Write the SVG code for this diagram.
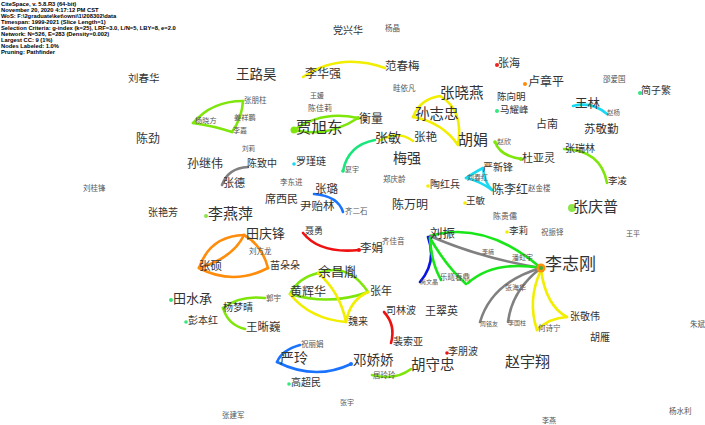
<svg xmlns="http://www.w3.org/2000/svg" width="705" height="425" viewBox="0 0 705 425">
<style>
.hd{font-family:"Liberation Sans",Arial,sans-serif;font-weight:bold;font-size:5.8px;fill:#000}
.t{font-family:"Noto Sans CJK SC","Noto Sans",sans-serif;fill:#333;dominant-baseline:central}
.s{fill:#555}
.e{fill:none;stroke-width:2.6;stroke-linecap:round}
.y{stroke:#f2ee00}.g{stroke:#7ee60a}.gb{stroke:#19e619}.tg{stroke:#19e67a}.o{stroke:#ff8c0a}
.b{stroke:#1a73ff}.db{stroke:#0a14e6}.r{stroke:#ee1111}.c{stroke:#1ad9f2}.gr{stroke:#808080}
</style>
<rect width="705" height="425" fill="#fff"/>
<g id="header">
<text class="hd" x="1" y="6.2">CiteSpace, v. 5.8.R3 (64-bit)</text>
<text class="hd" x="1" y="12.2">November 20, 2020 4:17:12 PM CST</text>
<text class="hd" x="1" y="18.2">WoS: F:\2graduate\ket\owni\1\208302\data</text>
<text class="hd" x="1" y="24.2">Timespan: 1999-2021 (Slice Length=1)</text>
<text class="hd" x="1" y="30.2">Selection Criteria: g-index (k=25), LRF=3.0, L/N=5, LBY=8, e=2.0</text>
<text class="hd" x="1" y="36.2">Network: N=526, E=283 (Density=0.002)</text>
<text class="hd" x="1" y="42.2">Largest CC: 9 (1%)</text>
<text class="hd" x="1" y="48.2">Nodes Labeled: 1.0%</text>
<text class="hd" x="1" y="54.2">Pruning: Pathfinder</text>
</g>
<g id="connectors">
<path class="e y" d="M303,77 Q340,52 385,68"/>
<path class="e g" d="M193,123 Q212,101 243,101"/>
<path class="e g" d="M243,101 Q242,118 232,132"/>
<path class="e g" d="M193,123 Q214,126 232,132"/>
<path class="e g" d="M294,130 Q322,110 358,118"/>
<path class="e g" d="M294,130 Q328,138 358,118"/>
<path class="e y" d="M413,117 Q420,99 440,96"/>
<path class="e y" d="M440,96 Q464,110 458,145"/>
<path class="e y" d="M413,117 Q442,122 458,145"/>
<path class="e y" d="M381,140 Q398,130 413,141"/>
<path class="e tg" d="M343,171 Q348,145 375,140"/>
<path class="e c" d="M573,106 Q592,101 607,114"/>
<path class="e g" d="M495,142 Q500,156 521,159"/>
<path class="e g" d="M564,149 Q601,150 607,183"/>
<path class="e c" d="M466,178 Q477,171 483,168"/>
<path class="e c" d="M483,168 Q484,182 492,190"/>
<path class="e c" d="M466,178 Q480,181 492,190"/>
<path class="e gr" d="M222,185 Q228,168 248,167"/>
<path class="e b" d="M314,194 Q338,196 343,212"/>
<path class="e r" d="M303,233 Q320,254 359,250"/>
<path class="e o" d="M244,235 Q210,236 199,268"/>
<path class="e o" d="M244,235 Q233,258 199,268"/>
<path class="e o" d="M199,268 Q233,286 268,268"/>
<path class="e o" d="M244,235 Q262,245 268,268"/>
<path class="e g" d="M318,273 Q298,278 290,294"/>
<path class="e g" d="M318,273 Q348,262 368,292"/>
<path class="e g" d="M290,294 Q330,306 368,292"/>
<path class="e y" d="M318,273 Q340,292 346,322"/>
<path class="e y" d="M290,294 Q310,319 346,322"/>
<path class="e y" d="M368,292 Q350,300 346,322"/>
<path class="e g" d="M223,308 Q240,295 265,298"/>
<path class="e g" d="M223,308 Q228,325 245,329"/>
<path class="e b" d="M300,345 Q282,350 277,362"/>
<path class="e b" d="M277,362 Q315,381 351,364"/>
<path class="e g" d="M372,375 Q395,381 411,369"/>
<path class="e r" d="M384,312 Q396,325 391,343"/>
<path class="e gb" d="M430,236 Q485,220 541,268"/>
<path class="e gr" d="M430,236 Q480,258 541,268"/>
<path class="e db" d="M428,237 Q437,262 420,282"/>
<path class="e gb" d="M430,238 Q431,262 441,280"/>
<path class="e gb" d="M430,238 Q446,266 466,284"/>
<path class="e gb" d="M541,268 Q494,260 468,283"/>
<path class="e gr" d="M541,268 Q492,282 480,322"/>
<path class="e gr" d="M541,268 Q512,290 508,322"/>
<path class="e y" d="M541,270 Q527,300 537,330"/>
<path class="e y" d="M541,270 Q546,306 567,317"/>
<path class="e y" d="M537,330 Q549,318 567,317"/>
</g>
<g id="n1"><text class="t" x="128" y="77" font-size="10.5">刘春华</text></g>
<g id="n2"><text class="t" x="136" y="137" font-size="12">陈劲</text></g>
<g id="n3"><text class="t s" x="83" y="187" font-size="7.5">刘桂锋</text></g>
<g id="n4"><text class="t" x="148" y="211" font-size="10">张艳芳</text></g>
<g id="n5"><text class="t" x="236" y="73" font-size="13.5">王路昊</text></g>
<g id="n6"><text class="t" x="305" y="72" font-size="12">李华强</text></g>
<g id="n7"><text class="t" x="333" y="29" font-size="10">党兴华</text></g>
<g id="n8"><text class="t s" x="385" y="27" font-size="7.5">杨晶</text></g>
<g id="n9"><text class="t" x="385" y="65" font-size="11.5">范春梅</text></g>
<g id="n10"><text class="t s" x="393" y="87" font-size="7.5">畦依凡</text></g>
<g id="n11"><circle cx="497" cy="65" r="2" fill="#ee2222"/><text class="t" x="498" y="62" font-size="11">张海</text></g>
<g id="n12"><circle cx="525" cy="84" r="2" fill="#ff8c0a"/><text class="t" x="528" y="80" font-size="12">卢章平</text></g>
<g id="n13"><text class="t s" x="603" y="78" font-size="7.5">邵爱国</text></g>
<g id="n14"><circle cx="640" cy="93" r="2" fill="#33e680"/><text class="t" x="641" y="89" font-size="10">简子繁</text></g>
<g id="n15"><text class="t" x="497" y="96" font-size="9.5">陈向明</text></g>
<g id="n16"><circle cx="497" cy="111" r="2" fill="#33e680"/><text class="t" x="500" y="109" font-size="9.5">马耀峰</text></g>
<g id="n17"><text class="t" x="575" y="102" font-size="12.5">王林</text></g>
<g id="n18"><text class="t s" x="607" y="112" font-size="6.5">赵杨</text></g>
<g id="n19"><text class="t" x="536" y="123" font-size="11">占南</text></g>
<g id="n20"><text class="t" x="584" y="128" font-size="11.5">苏敬勤</text></g>
<g id="n21"><text class="t s" x="244" y="99" font-size="7.5">张朋柱</text></g>
<g id="n22"><text class="t s" x="234" y="117" font-size="7.2">姜祥鹏</text></g>
<g id="n23"><text class="t s" x="195" y="120" font-size="7.2">杨晓方</text></g>
<g id="n24"><text class="t s" x="233" y="130" font-size="7">李嘉</text></g>
<g id="n25"><text class="t s" x="310" y="95" font-size="7">王媛</text></g>
<g id="n26"><text class="t s" x="308" y="107" font-size="8">陈佳莉</text></g>
<g id="n27"><circle cx="294" cy="130" r="3.5" fill="#7ee60a"/><text class="t" x="296" y="126" font-size="15.5" fill="#222">贾旭东</text></g>
<g id="n28"><circle cx="358" cy="118" r="2" fill="#7ee60a"/><text class="t" x="359" y="117" font-size="12">衡量</text></g>
<g id="n29"><text class="t" x="415" y="112" font-size="14.5" fill="#222">孙志忠</text></g>
<g id="n30"><text class="t" x="440" y="91" font-size="14.5" fill="#222">张晓燕</text></g>
<g id="n31"><text class="t" x="375" y="136" font-size="13">张敏</text></g>
<g id="n32"><text class="t" x="414" y="136" font-size="11.5">张艳</text></g>
<g id="n33"><text class="t" x="458" y="138" font-size="15" fill="#222">胡娟</text></g>
<g id="n34"><circle cx="495" cy="142" r="1.8" fill="#7ee60a"/><text class="t s" x="497" y="141" font-size="7">赵欣</text></g>
<g id="n35"><circle cx="521" cy="159" r="2" fill="#7ee60a"/><text class="t" x="522" y="157" font-size="11">杜亚灵</text></g>
<g id="n36"><text class="t" x="565" y="147" font-size="10">张瑞林</text></g>
<g id="n37"><text class="t" x="608" y="180" font-size="9.5">李凌</text></g>
<g id="n38"><text class="t" x="483" y="166" font-size="10">严新锋</text></g>
<g id="n39"><text class="t s" x="467" y="177" font-size="7">刘春红</text></g>
<g id="n40"><text class="t" x="492" y="188" font-size="12">陈李红</text></g>
<g id="n41"><text class="t s" x="528" y="187" font-size="7.5">赵金楼</text></g>
<g id="n42"><circle cx="572" cy="208" r="4" fill="#8ee64a"/><text class="t" x="573" y="205" font-size="15" fill="#222">张庆普</text></g>
<g id="n43"><circle cx="428" cy="186" r="1.8" fill="#f2ee00"/><text class="t" x="430" y="183" font-size="10">陶红兵</text></g>
<g id="n44"><circle cx="465" cy="203" r="1.8" fill="#f2ee00"/><text class="t" x="466" y="200" font-size="9.5">王敏</text></g>
<g id="n45"><text class="t s" x="493" y="215" font-size="8">陈贵儒</text></g>
<g id="n46"><circle cx="507" cy="232" r="1.8" fill="#f2ee00"/><text class="t" x="509" y="230" font-size="9.5">李莉</text></g>
<g id="n47"><text class="t s" x="541" y="231" font-size="7.5">祝振铎</text></g>
<g id="n48"><text class="t s" x="626" y="233" font-size="7">王平</text></g>
<g id="n49"><text class="t" x="393" y="157" font-size="14">梅强</text></g>
<g id="n50"><text class="t s" x="383" y="178" font-size="7.5">郑庆龄</text></g>
<g id="n51"><text class="t" x="392" y="203" font-size="12">陈万明</text></g>
<g id="n52"><circle cx="343" cy="171" r="1.8" fill="#19e67a"/><text class="t s" x="345" y="169" font-size="7">夏宇</text></g>
<g id="n53"><text class="t s" x="345" y="210" font-size="7.5">齐二石</text></g>
<g id="n54"><text class="t" x="187" y="162" font-size="12">孙继伟</text></g>
<g id="n55"><text class="t s" x="242" y="148" font-size="6.5">刘莉</text></g>
<g id="n56"><text class="t" x="247" y="162" font-size="10">陈致中</text></g>
<g id="n57"><text class="t" x="223" y="182" font-size="11">张德</text></g>
<g id="n58"><circle cx="294" cy="164" r="1.8" fill="#1ad9f2"/><text class="t" x="296" y="160" font-size="10">罗瑾琏</text></g>
<g id="n59"><text class="t s" x="280" y="181" font-size="7.5">李东进</text></g>
<g id="n60"><text class="t" x="315" y="188" font-size="11.5">张璐</text></g>
<g id="n61"><text class="t" x="265" y="198" font-size="11">席西民</text></g>
<g id="n62"><text class="t" x="300" y="205" font-size="11.5">尹贻林</text></g>
<g id="n63"><circle cx="206" cy="216" r="2" fill="#8ee64a"/><text class="t" x="208" y="212" font-size="15" fill="#222">李燕萍</text></g>
<g id="n64"><text class="t" x="246" y="232" font-size="13">田庆锋</text></g>
<g id="n65"><text class="t" x="305" y="230" font-size="9">聂勇</text></g>
<g id="n66"><text class="t s" x="249" y="250" font-size="7.5">刘方龙</text></g>
<g id="n67"><text class="t" x="199" y="265" font-size="11.5">张硕</text></g>
<g id="n68"><text class="t" x="270" y="264" font-size="10">苗朵朵</text></g>
<g id="n69"><circle cx="359" cy="250" r="2" fill="#ee1111"/><text class="t" x="360" y="247" font-size="11.5">李娟</text></g>
<g id="n70"><text class="t s" x="382" y="240" font-size="7.5">齐佳音</text></g>
<g id="n71"><text class="t" x="430" y="232" font-size="12.5" fill="#222">刘振</text></g>
<g id="n72"><text class="t s" x="482" y="251" font-size="6">李楠</text></g>
<g id="n73"><text class="t s" x="512" y="257" font-size="7">潘虹宇</text></g>
<g id="n74"><circle cx="541" cy="268" r="4.5" fill="#ff8c0a"/><circle cx="541" cy="268" r="2" fill="#3cb43c"/><text class="t" x="545" y="262" font-size="17" fill="#222">李志刚</text></g>
<g id="n75"><text class="t s" x="440" y="276" font-size="7.5">乐曦春鼎</text></g>
<g id="n76"><text class="t s" x="420" y="281" font-size="6">尚文晶</text></g>
<g id="n77"><text class="t s" x="505" y="287" font-size="7">张海华</text></g>
<g id="n78"><text class="t" x="318" y="270" font-size="13" fill="#222">余昌胤</text></g>
<g id="n79"><text class="t" x="290" y="290" font-size="12">黄辉华</text></g>
<g id="n80"><text class="t" x="370" y="290" font-size="11">张年</text></g>
<g id="n81"><text class="t" x="348" y="320" font-size="10">魏来</text></g>
<g id="n82"><circle cx="171" cy="300" r="2" fill="#33e680"/><text class="t" x="173" y="297" font-size="13">田水承</text></g>
<g id="n83"><circle cx="186" cy="322" r="1.8" fill="#33e680"/><text class="t" x="188" y="319" font-size="10">彭本红</text></g>
<g id="n84"><text class="t" x="223" y="306" font-size="10">杨梦晴</text></g>
<g id="n85"><text class="t s" x="266" y="297" font-size="7.5">郭宇</text></g>
<g id="n86"><text class="t" x="246" y="326" font-size="11.5">王晰巍</text></g>
<g id="n87"><text class="t" x="386" y="309" font-size="10">司林波</text></g>
<g id="n88"><text class="t" x="425" y="310" font-size="11">王翠英</text></g>
<g id="n89"><text class="t" x="393" y="340" font-size="10">裴索亚</text></g>
<g id="n90"><text class="t s" x="480" y="323" font-size="6">周铭友</text></g>
<g id="n91"><text class="t s" x="508" y="322" font-size="6">李国柱</text></g>
<g id="n92"><text class="t" x="570" y="315" font-size="10">张敬伟</text></g>
<g id="n93"><text class="t s" x="538" y="327" font-size="7.5">何诗宁</text></g>
<g id="n94"><text class="t" x="590" y="336" font-size="10">胡雁</text></g>
<g id="n95"><text class="t s" x="690" y="323" font-size="7.5">朱斌</text></g>
<g id="n96"><text class="t" x="505" y="360" font-size="15" fill="#222">赵宇翔</text></g>
<g id="n97"><circle cx="447" cy="353" r="1.8" fill="#ee1111"/><text class="t" x="448" y="350" font-size="10">李朋波</text></g>
<g id="n98"><text class="t s" x="301" y="343" font-size="7.5">祝丽娟</text></g>
<g id="n99"><text class="t" x="280" y="357" font-size="14" fill="#222">严玲</text></g>
<g id="n100"><circle cx="351" cy="364" r="2" fill="#1a73ff"/><text class="t" x="353" y="359" font-size="13.5" fill="#222">邓娇娇</text></g>
<g id="n101"><circle cx="289" cy="384" r="1.8" fill="#33e680"/><text class="t" x="291" y="381" font-size="10">高超民</text></g>
<g id="n102"><text class="t s" x="373" y="374" font-size="7.5">居玲玲</text></g>
<g id="n103"><text class="t" x="411" y="363" font-size="14.5" fill="#222">胡守忠</text></g>
<g id="n104"><text class="t s" x="340" y="402" font-size="7">张宇</text></g>
<g id="n105"><text class="t s" x="222" y="414" font-size="7.5">张建军</text></g>
<g id="n106"><text class="t s" x="669" y="410" font-size="7.5">杨水利</text></g>
<g id="n107"><text class="t s" x="542" y="420" font-size="7">李燕</text></g>
</svg>
